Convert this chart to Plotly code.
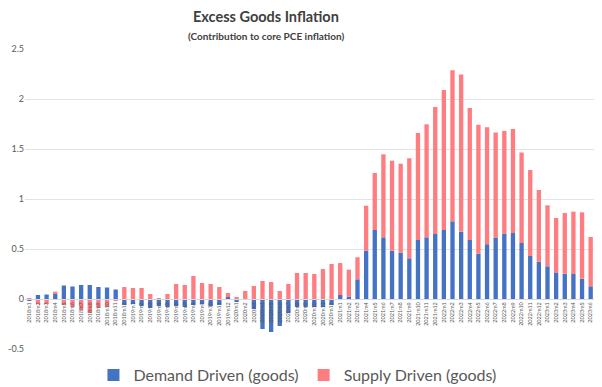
import plotly.graph_objects as go

months = [f"{y}m{m}" for y in range(2018, 2024) for m in range(1, 13)][:66]

demand = [-0.015, 0.04, 0.045, 0.05, 0.135, 0.125, 0.14, 0.14, 0.12, 0.115, 0.095, -0.06,
          -0.05, -0.07, -0.09, -0.07, -0.08, -0.07, -0.08, -0.06, -0.05, -0.07, -0.06, 0.02,
          -0.03, -0.01, -0.10, -0.30, -0.33, -0.27, -0.14, -0.08, -0.08, -0.08, -0.08, -0.06,
          0.04, 0.023, 0.197, 0.483, 0.69, 0.617, 0.483, 0.463, 0.407, 0.59, 0.617, 0.65,
          0.69, 0.777, 0.674, 0.59, 0.452, 0.548, 0.615, 0.651, 0.66, 0.56, 0.43, 0.373,
          0.327, 0.26, 0.253, 0.25, 0.203, 0.127]

supply = [0.01, -0.05, -0.05, 0.023, -0.06, -0.08, -0.11, -0.14, -0.09, -0.08, -0.02, 0.12,
          0.11, 0.11, 0.05, 0.005, 0.05, 0.15, 0.14, 0.23, 0.16, 0.15, 0.12, 0.04,
          0.02, 0.08, 0.13, 0.18, 0.17, 0.08, 0.15, 0.26, 0.26, 0.25, 0.30, 0.35,
          0.32, 0.27, 0.22, 0.45, 0.57, 0.83, 0.90, 0.89, 1.00, 1.07, 1.13, 1.27,
          1.40, 1.51, 1.57, 1.32, 1.29, 1.17, 1.05, 1.03, 1.04, 0.905, 0.86, 0.717,
          0.61, 0.55, 0.607, 0.623, 0.664, 0.493]

y_ticks = [-0.5, 0, 0.5, 1, 1.5, 2, 2.5]
y_tick_text = ["-0.5", "0", "0.5", "1", "1.5", "2", "2.5"]

FONT = "Lato"
GRAY = "#595959"

fig = go.Figure()
fig.add_trace(go.Bar(x=months, y=demand, name="Demand Driven (goods)",
                     marker=dict(color="#4472C4", line=dict(width=0))))
fig.add_trace(go.Bar(x=months, y=supply, name="Supply Driven (goods)",
                     marker=dict(color="#FF7C80", line=dict(width=0))))

ymin, ymax = -0.5, 2.5
fig.update_layout(
    width=594, height=379,
    barmode="relative", bargap=0.5,
    paper_bgcolor="white", plot_bgcolor="white",
    margin=dict(l=17, r=7, t=41, b=38, autoexpand=False),
    font=dict(family=FONT, color=GRAY),
    showlegend=True,
    legend=dict(orientation="h", x=0.478, xanchor="center", y=-0.087, yanchor="middle",
                font=dict(size=16, color=GRAY, family=FONT), traceorder="normal",
                itemwidth=30),
    xaxis=dict(type="category", range=[-0.5, 65.5], anchor="free",
               position=(0 - ymin) / (ymax - ymin),
               showline=True, linecolor="#d9d9d9", linewidth=1,
               showgrid=False, ticks="", tickangle=-90,
               tickfont=dict(size=5.5, color=GRAY, family=FONT)),
    yaxis=dict(range=[ymin, ymax], tickvals=y_ticks, ticktext=y_tick_text,
               showgrid=True, gridcolor="#e3e3e3", gridwidth=1,
               zeroline=True, zerolinecolor="#d9d9d9", zerolinewidth=1,
               tickfont=dict(size=9, color=GRAY, family=FONT), ticks=""),
    annotations=[
        dict(text="<b>Excess Goods Inflation</b>", xref="paper", yref="paper",
             x=(266 - 25) / 570, y=(349 - 17) / 300, xanchor="center", yanchor="middle",
             showarrow=False, font=dict(size=14.5, color="#404040", family=FONT)),
        dict(text="<b>(Contribution to core PCE inflation)</b>", xref="paper", yref="paper",
             x=(266 - 25) / 570, y=(349 - 36) / 300, xanchor="center", yanchor="middle",
             showarrow=False, font=dict(size=10, color="#404040", family=FONT)),
    ],
)

fig.write_html("out.html")
